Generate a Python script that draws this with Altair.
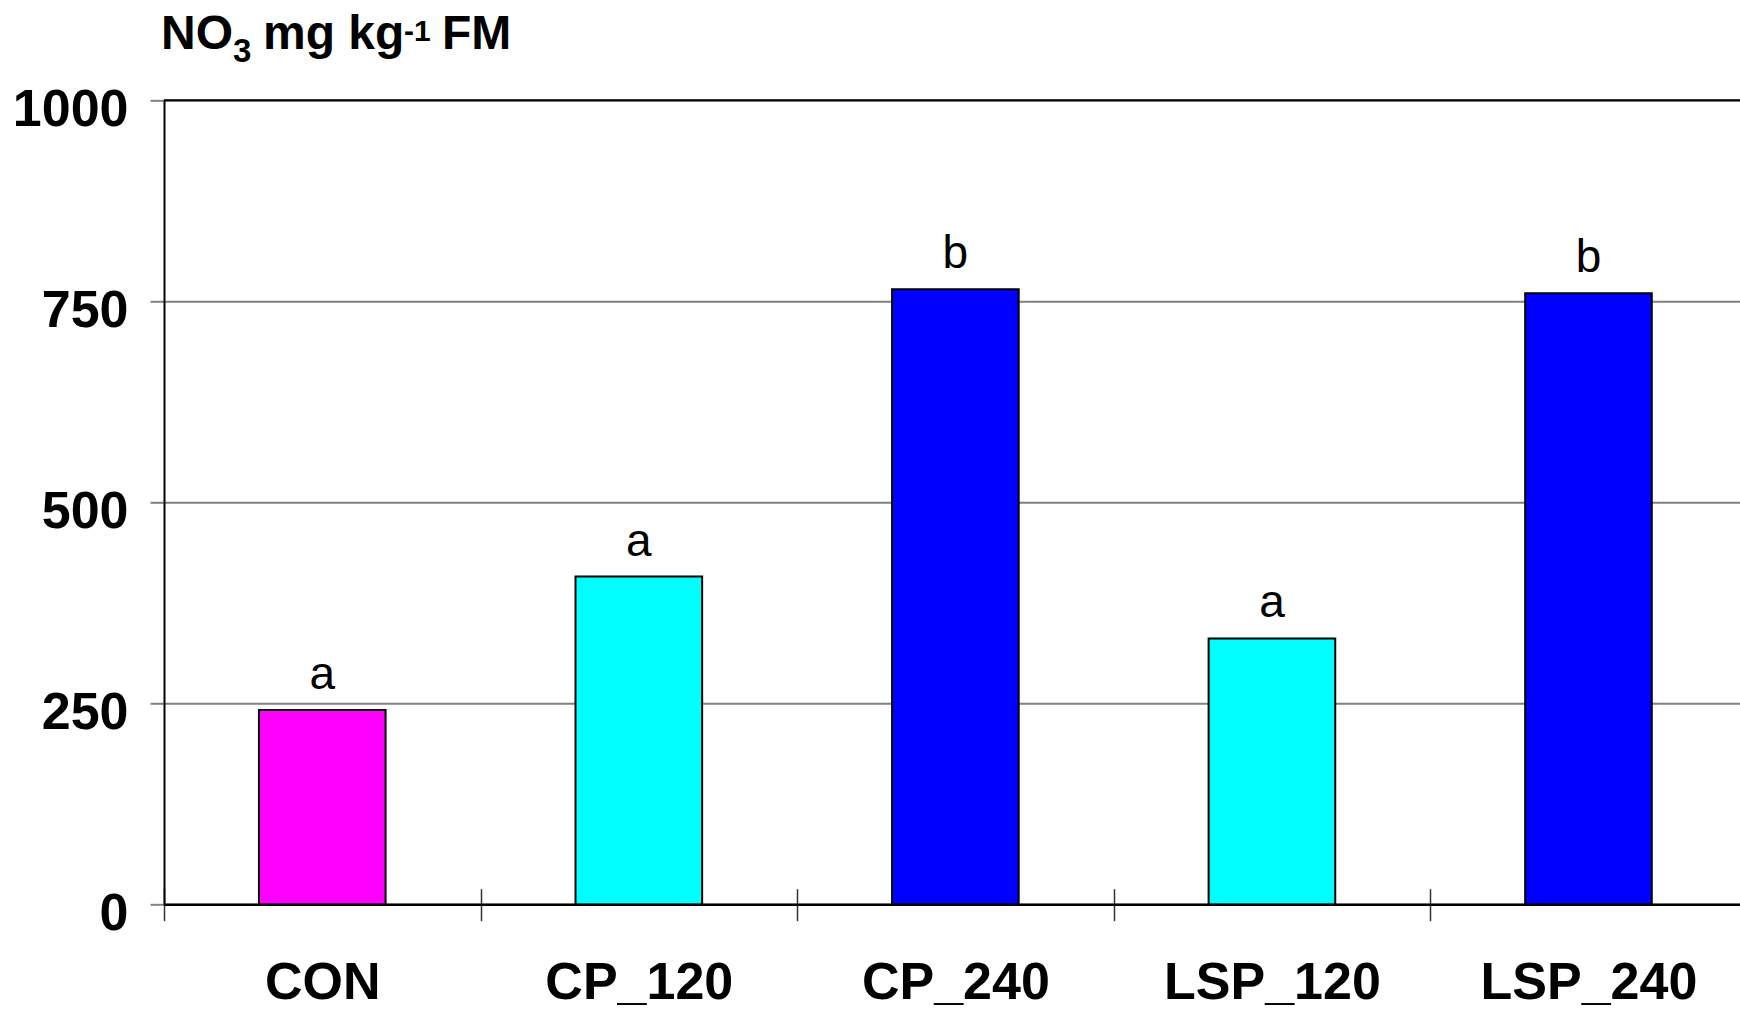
import altair as alt
import pandas as pd

# Nitrate content per treatment
treatments = ["CON", "CP_120", "CP_240", "LSP_120", "LSP_240"]
nitrate = [242, 408, 765, 331, 760]
letters = ["a", "a", "b", "a", "b"]
bar_colors = ["#FF00FF", "#00FFFF", "#0000FF", "#00FFFF", "#0000FF"]
y_ticks = [0, 250, 500, 750, 1000]

df = pd.DataFrame({"treatment": treatments, "nitrate": nitrate,
                   "letter": letters, "color": bar_colors})

W, H = 1576, 804.4
STEP_RANGE = 1582.75
FONT = "Liberation Sans"

x_scale = alt.Scale(domain=treatments, paddingInner=0, paddingOuter=0,
                    range=[0, STEP_RANGE])
y_scale = alt.Scale(domain=[0, 1000], nice=False, zero=True)

x_axis = alt.Axis(title=None, domain=False, tickBand="extent", tickSize=32,
                  offset=-16, tickColor="#333333", tickWidth=1.5,
                  labelFont=FONT, labelFontSize=52, labelFontWeight="bold",
                  labelColor="black", labelBaseline="top", labelPadding=37,
                  labelAngle=0, labelLimit=0)
y_axis = alt.Axis(title=None, values=y_ticks, format="d", domain=True,
                  domainColor="black", domainWidth=2, grid=True,
                  gridColor="#808080", gridWidth=2,
                  tickSize=14, tickColor="#808080", tickWidth=2,
                  labelFont=FONT, labelFontSize=52, labelFontWeight="bold",
                  labelColor="black", labelPadding=22, labelBaseline="middle",
                  labelOffset=9, labelLimit=0)

base = alt.Chart(df)

bars = base.mark_bar(width=alt.RelativeBandSize(0.4), stroke="black",
                     strokeWidth=2).encode(
    x=alt.X("treatment:N", scale=x_scale, axis=x_axis, sort=treatments),
    y=alt.Y("nitrate:Q", scale=y_scale, axis=y_axis),
    color=alt.Color("color:N", scale=None),
)

labels = base.mark_text(font=FONT, fontSize=46, baseline="alphabetic",
                        dy=-21, color="black").encode(
    x=alt.X("treatment:N", scale=x_scale, sort=treatments),
    y=alt.Y("nitrate:Q", scale=y_scale),
    text="letter:N",
)

top_line = alt.Chart(pd.DataFrame({"v": [1000]})).mark_rule(
    color="black", strokeWidth=2).encode(
    y=alt.Y("v:Q", scale=y_scale), x=alt.value(0), x2=alt.value(W))

base_line = alt.Chart(pd.DataFrame({"v": [0]})).mark_rule(
    color="black", strokeWidth=2.5).encode(
    y=alt.Y("v:Q", scale=y_scale), x=alt.value(0), x2=alt.value(W))

# Y-axis heading: NO3 mg kg-1 FM with sub/superscripts
def piece(txt, size, xpos, ypos):
    return alt.Chart(pd.DataFrame({"t": [txt]})).mark_text(
        font=FONT, fontSize=size, fontWeight="bold", align="left",
        baseline="alphabetic", color="black").encode(
        x=alt.value(xpos), y=alt.value(ypos), text="t:N")

title = (piece("NO", 48, -3, -51) + piece("3", 33, 69, -38)
         + piece("mg kg", 48, 99, -51) + piece("-1", 30, 240, -59)
         + piece("FM", 48, 278, -51))

chart = alt.layer(bars, labels, top_line, base_line, title).properties(
    width=W, height=H,
    autosize=alt.AutoSizeParams(type="none"),
    padding={"left": 164, "top": 100.3, "right": 0, "bottom": 105.3},
).configure_view(stroke=None).configure(background="white")

chart.save("out.html", embed_options={"renderer": "svg", "actions": False})
